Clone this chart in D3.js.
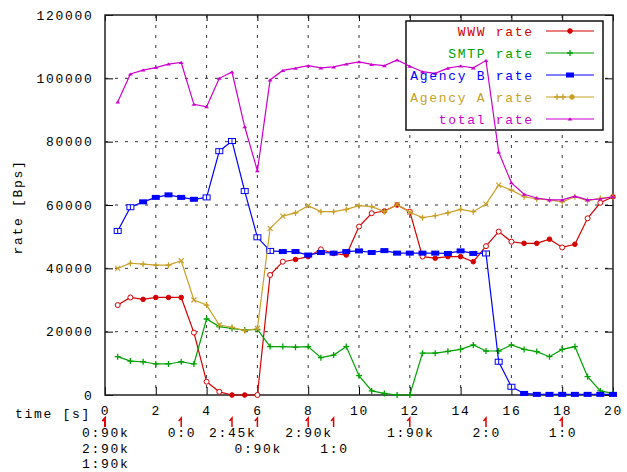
<!DOCTYPE html>
<html>
<head>
<meta charset="utf-8">
<script src="https://cdn.jsdelivr.net/npm/d3@7"></script>
<style>
body { margin: 0; background: #fff; }
svg text { font-family: "Liberation Mono", monospace; font-size: 13px; letter-spacing: 1.7px; }
</style>
</head>
<body>
<svg id="chart" width="627" height="472"></svg>
<script>
// sample times [s]
var times = [0.5, 1, 1.5, 2, 2.5, 3, 3.5, 4, 4.5, 5, 5.5, 6, 6.5, 7, 7.5, 8, 8.5, 9, 9.5, 10,
             10.5, 11, 11.5, 12, 12.5, 13, 13.5, 14, 14.5, 15, 15.5, 16, 16.5, 17, 17.5, 18, 18.5, 19, 19.5, 20];

// rates [Bps]
var wwwRate = [28400, 30800, 30200, 30800, 30800, 30800, 19700, 4200, 1000, 0, 0, 0, 37900, 42100, 42800, 43700, 46000, 44700, 44200, 53200,
               57400, 58100, 60000, 57900, 43700, 43200, 43700, 43700, 42100, 47000, 51600, 48400, 47900, 47900, 49200, 46600, 47600, 55800, 60700, 62600];
var smtpRate = [12100, 10700, 10500, 9800, 9800, 10500, 9800, 24000, 21600, 21000, 20500, 20700, 15300, 15300, 15100, 15300, 11800, 12600, 15300, 6100,
                1300, 500, 0, 0, 13200, 13200, 13800, 14400, 15800, 13900, 13900, 15800, 14400, 13700, 12100, 14400, 15300, 5800, 1300, 500];
var agencyBRate = [51800, 59300, 61000, 62400, 63200, 62400, 61800, 62400, 77000, 80200, 64400, 49800, 45500, 45300, 45300, 44200, 45000, 44800, 45300, 45500,
                   45000, 45600, 44800, 44800, 44800, 44800, 44700, 45500, 44700, 44700, 10500, 2600, 500, 200, 200, 200, 200, 200, 200, 200];
var agencyARate = [40000, 41600, 41300, 41000, 41000, 42400, 30000, 28400, 22100, 21400, 20300, 21000, 52600, 56500, 57500, 59800, 57900, 57900, 58600, 59800,
                   59500, 57900, 60200, 57700, 56000, 56600, 57500, 58600, 57900, 60300, 66300, 64700, 62600, 61900, 61600, 61000, 62600, 61400, 62100, 62600];
var totalRate = [92500, 101400, 102600, 103400, 104500, 105000, 91800, 91000, 100000, 102000, 84700, 70800, 99500, 102500, 103200, 104000, 103300, 103600, 104500, 105200,
                 104400, 104000, 105800, 103800, 102100, 101600, 103200, 103900, 103300, 105600, 76700, 67000, 63400, 62200, 61600, 61600, 62800, 61600, 61900, 62600];

// events under the time axis
var eventTimes = [0, 0, 0, 3, 5, 6, 8, 9, 12, 15, 18];
var eventLabels = ["0:90k", "2:90k", "1:90k", "0:0", "2:45k", "0:90k", "2:90k", "1:0", "1:90k", "2:0", "1:0"];

var xTicks = [0, 2, 4, 6, 8, 10, 12, 14, 16, 18, 20];
var yTicks = [0, 20000, 40000, 60000, 80000, 100000, 120000];

var series = [
    {name: "WWW rate", values: wwwRate, color: "#d40000", kind: "circle"},
    {name: "SMTP rate", values: smtpRate, color: "#00a000", kind: "plus"},
    {name: "Agency B rate", values: agencyBRate, color: "#0000ff", kind: "square"},
    {name: "Agency A rate", values: agencyARate, color: "#c8a028", kind: "cross"},
    {name: "total rate", values: totalRate, color: "#cc00cc", kind: "tri"}
];

var svg = d3.select("#chart");
var x = d3.scaleLinear().domain([0, 20]).range([105, 613]);
var y = d3.scaleLinear().domain([0, 120000]).range([395, 15]);

// grid
svg.append("g").selectAll("line").data(xTicks.slice(1, -1)).enter().append("line")
    .attr("x1", d => x(d)).attr("x2", d => x(d)).attr("y1", y(120000)).attr("y2", y(0))
    .attr("stroke", "#333").attr("stroke-dasharray", "3,7");
svg.append("g").selectAll("line").data(yTicks.slice(1, -1)).enter().append("line")
    .attr("x1", x(0)).attr("x2", x(20)).attr("y1", d => y(d)).attr("y2", d => y(d))
    .attr("stroke", "#333").attr("stroke-dasharray", "3,7");

// axes (ticks point inward like gnuplot)
var axB = svg.append("g").attr("transform", "translate(0," + y(0) + ")")
    .call(d3.axisBottom(x).tickValues(xTicks).tickSize(-8).tickPadding(11));
svg.append("g").attr("transform", "translate(0," + y(120000) + ")")
    .call(d3.axisTop(x).tickValues(xTicks).tickSize(-6).tickFormat(""));
var axL = svg.append("g").attr("transform", "translate(" + x(0) + ",0)")
    .call(d3.axisLeft(y).tickValues(yTicks).tickSize(-8).tickPadding(11.5).tickFormat(d3.format("d")));
svg.append("g").attr("transform", "translate(" + x(20) + ",0)")
    .call(d3.axisRight(y).tickValues(yTicks).tickSize(-8).tickFormat(""));
svg.selectAll(".domain").remove();
svg.selectAll(".tick line").attr("stroke", "#000");
svg.selectAll(".tick text").attr("fill", "#000").style("font-family", "Liberation Mono, monospace").style("font-size", "13px");

svg.append("rect").attr("x", x(0)).attr("y", y(120000))
    .attr("width", x(20) - x(0)).attr("height", y(0) - y(120000))
    .attr("fill", "none").attr("stroke", "#222").attr("stroke-width", 1.5);

svg.append("text").attr("x", 15).attr("y", 418).text("time [s]");
svg.append("text").attr("transform", "translate(22,207) rotate(-90)")
    .attr("text-anchor", "middle").text("rate [Bps]");

// legend box (under the curves)
var leg = svg.append("g");
leg.append("rect").attr("x", 406).attr("y", 21).attr("width", 197).attr("height", 109)
    .attr("fill", "#fff").attr("stroke", "#111").attr("stroke-width", 1.5);

function isOpen(vals, i) {
    if (i == 0) return true;
    var dp = Math.abs(vals[i] - vals[i - 1]);
    var dn = i < vals.length - 1 ? Math.abs(vals[i + 1] - vals[i]) : 0;
    return dp > 2200 || dn > 12000;
}

function marker(g, kind, color, open) {
    if (kind == "circle") {
        g.append("circle").attr("r", open ? 2.5 : 2.3)
            .attr("fill", open ? "#fff" : color).attr("stroke", color).attr("stroke-width", 1);
    } else if (kind == "plus") {
        g.append("path").attr("d", "M-3,0H3M0,-3V3").attr("stroke", color).attr("stroke-width", 1.3);
    } else if (kind == "square") {
        if (open) {
            g.append("rect").attr("x", -3.5).attr("y", -2.5).attr("width", 7).attr("height", 5)
                .attr("fill", "#fff").attr("stroke", color).attr("stroke-width", 1);
            g.append("path").attr("d", "M0,-2.5V2.5").attr("stroke", color).attr("stroke-width", 1);
        } else {
            g.append("rect").attr("x", -4).attr("y", -2.5).attr("width", 8).attr("height", 5).attr("fill", color);
        }
    } else if (kind == "cross") {
        g.append("path").attr("d", open ? "M-2.5,-2.5L2.5,2.5M2.5,-2.5L-2.5,2.5" : "M-3,0H3M0,-3V3")
            .attr("stroke", color).attr("stroke-width", 1.2);
        if (!open) g.append("circle").attr("r", 1.3).attr("fill", color);
    } else {
        g.append("path").attr("d", "M-2.5,1.5L2.5,1.5L0,-1.5Z").attr("fill", color);
    }
}

var line = d3.line().x((d, i) => x(times[i])).y(d => y(d));

series.forEach(function(s) {
    var g = svg.append("g");
    g.append("path").datum(s.values).attr("d", line)
        .attr("fill", "none").attr("stroke", s.color).attr("stroke-width", 1.2);
    s.values.forEach(function(v, i) {
        var m = g.append("g").attr("transform", "translate(" + x(times[i]) + "," + y(v) + ")");
        marker(m, s.kind, s.color, isOpen(s.values, i));
    });
});

// legend entries
series.forEach(function(s, i) {
    var ly = 31 + i * 22;
    svg.append("text").attr("x", 533.7).attr("y", ly + 4.5).attr("text-anchor", "end")
        .attr("fill", s.color).text(s.name);
    svg.append("line").attr("x1", 546).attr("x2", 594).attr("y1", ly).attr("y2", ly)
        .attr("stroke", s.color).attr("stroke-width", 1.2);
    if (s.kind == "cross") {
        [557, 563].forEach(function(px) {
            marker(svg.append("g").attr("transform", "translate(" + px + "," + ly + ")"), "plus", s.color, false);
        });
        marker(svg.append("g").attr("transform", "translate(572," + ly + ")"), "circle", s.color, false);
    } else {
        marker(svg.append("g").attr("transform", "translate(570," + ly + ")"), s.kind, s.color, false);
    }
});

// events: red arrows + stacked labels
var rows = [];
var ev = svg.append("g");
eventTimes.forEach(function(t, i) {
    var cx = x(t);
    ev.append("path").attr("d", "M" + cx + ",427V418L" + (cx - 2.5) + ",421")
        .attr("fill", "none").attr("stroke", "#e00000").attr("stroke-width", 1.5);
    var w = eventLabels[i].length * 9.5;
    var x0 = cx - w / 2, x1 = cx + w / 2;
    var r = 0;
    while (rows[r] !== undefined && rows[r] > x0 - 4) r++;
    rows[r] = x1;
    ev.append("text").attr("x", cx + 0.85).attr("y", 437 + r * 15.5)
        .attr("text-anchor", "middle").attr("fill", "#000").text(eventLabels[i]);
});
</script>
</body>
</html>
